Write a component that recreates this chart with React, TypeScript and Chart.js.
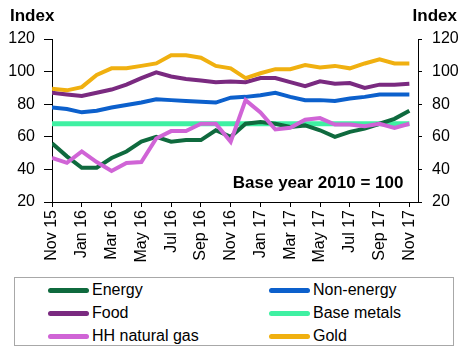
import React, { useEffect, useRef } from "react";
import { Chart, registerables } from "chart.js";

Chart.register(...registerables);

const monthLabels = [
  "Nov 15", "Dec 15", "Jan 16", "Feb 16", "Mar 16", "Apr 16", "May 16", "Jun 16", "Jul 16",
  "Aug 16", "Sep 16", "Oct 16", "Nov 16", "Dec 16", "Jan 17", "Feb 17", "Mar 17", "Apr 17",
  "May 17", "Jun 17", "Jul 17", "Aug 17", "Sep 17", "Oct 17", "Nov 17",
];

const energy = [56, 48, 41, 41, 47, 51, 57, 60, 57, 58, 58, 64, 60, 68, 69, 68, 66, 67, 64, 60, 63, 65, 68, 71, 76];
const nonEnergy = [78, 77, 75, 76, 78, 79.5, 81, 83, 82.5, 82, 81.5, 81, 84, 84.5, 85.5, 87, 84.5, 82.5, 82.5, 82, 83.5, 84.5, 86, 86, 86];
const food = [87, 86, 85, 87, 89, 92, 96, 99.5, 97, 95.5, 94.5, 93.5, 94, 93.5, 96, 96, 93.5, 91, 94, 92.5, 93, 90, 92, 92, 92.5];
const baseMetals = [68, 68, 68, 68, 68, 68, 68, 68, 68, 68, 68, 68, 68, 68, 68, 68, 68, 68, 68, 68, 68, 68, 68, 68, 68];
const hhGas = [47, 44, 51, 44.5, 39, 44, 44.5, 59, 63.5, 63.5, 68, 68, 57, 82.5, 75, 64.5, 65.5, 70.5, 71.5, 67.5, 67.5, 66.5, 68, 65.5, 68];
const gold = [89.5, 88.5, 90.5, 98, 102, 102, 103.5, 105, 110, 110, 108.5, 103.5, 102, 96, 99, 101.5, 101.5, 104, 102.5, 103.5, 102, 105, 107.5, 105, 105];

const yTicks = [20, 40, 60, 80, 100, 120];

const seriesNames = ["Energy", "Non-energy", "Food", "Base metals", "HH natural gas", "Gold"];
const seriesColors = ["#0f6a3e", "#0c60cc", "#7a2a80", "#3ff0a2", "#d064d6", "#f0b010"];
const seriesData = [energy, nonEnergy, food, baseMetals, hhGas, gold];
const seriesOrder = [2, 4, 4, 5, 1, 3];

const FONT = "'Liberation Sans', Arial, sans-serif";

const annotationPlugin = {
  id: "annot",
  afterDraw(chart: any) {
    const { ctx, chartArea } = chart;
    ctx.save();
    ctx.fillStyle = "#000";
    ctx.font = `bold 17px ${FONT}`;
    ctx.textBaseline = "middle";
    ctx.textAlign = "left";
    ctx.fillText("Index", 10, 16);
    ctx.textAlign = "right";
    ctx.fillText("Index", chart.width - 10, 16);
    ctx.textAlign = "center";
    ctx.fillText("Base year 2010 = 100", chartArea.left + (chartArea.right - chartArea.left) * 0.727, chartArea.bottom - 19);
    ctx.restore();
  },
};

export default function App() {
  const ref = useRef<HTMLCanvasElement>(null);

  useEffect(() => {
    if (!ref.current) return;
    const datasets = seriesNames.map((name, k) => ({
      label: name,
      data: seriesData[k].map((v, i) => ({ x: i, y: v })),
      borderColor: seriesColors[k],
      backgroundColor: seriesColors[k],
      borderWidth: k === 3 ? 5 : 4,
      pointRadius: 0,
      tension: 0,
      order: seriesOrder[k],
      yAxisID: "y",
    }));
    const tickCommon = { color: "#000", font: { family: FONT, size: 16 } };
    const chart = new Chart(ref.current, {
      type: "line",
      data: { datasets },
      plugins: [annotationPlugin],
      options: {
        animation: false,
        responsive: false,
        devicePixelRatio: 1,
        layout: { padding: { top: 39, left: 0, right: 0, bottom: 0 } },
        plugins: { legend: { display: false }, tooltip: { enabled: false } },
        scales: {
          x: {
            type: "linear",
            min: 0,
            max: 24.58,
            afterBuildTicks: (scale: any) => {
              scale.ticks = monthLabels
                .map((_, i) => i)
                .filter((i) => i % 2 === 0)
                .map((i) => ({ value: i }));
            },
            afterFit: (scale: any) => {
              scale.height = 272 - 202;
            },
            ticks: {
              ...tickCommon,
              minRotation: 90,
              maxRotation: 90,
              autoSkip: false,
              padding: 3,
              callback: (v: any) => monthLabels[v] ?? "",
            },
            grid: { drawOnChartArea: false, drawTicks: true, tickLength: 5, color: "#000" },
            border: { display: true, color: "#000", width: 1 },
          },
          y: {
            position: "left",
            min: 20,
            max: 120,
            afterBuildTicks: (scale: any) => {
              scale.ticks = yTicks.map((v) => ({ value: v }));
            },
            afterFit: (scale: any) => {
              scale.width = 52;
            },
            ticks: { ...tickCommon, padding: 9 },
            grid: { drawOnChartArea: false, drawTicks: true, tickLength: 8, color: "#000" },
            border: { display: true, color: "#000", width: 1 },
          },
          y2: {
            position: "right",
            min: 20,
            max: 120,
            afterBuildTicks: (scale: any) => {
              scale.ticks = yTicks.map((v) => ({ value: v }));
            },
            afterFit: (scale: any) => {
              scale.width = 49;
            },
            ticks: { ...tickCommon, padding: 10 },
            grid: { drawOnChartArea: false, drawTicks: true, tickLength: 4, color: "#000" },
            border: { display: true, color: "#000", width: 1 },
          },
        },
      },
    } as any);
    return () => chart.destroy();
  }, []);

  const legendCols = [0, 1];
  const legendRows = [0, 1, 2];

  return (
    <div style={{ position: "fixed", left: 0, top: 0, width: 467, height: 353, background: "#fff", overflow: "hidden" }}>
      <canvas ref={ref} width={467} height={272} style={{ position: "absolute", left: 0, top: 0, width: 467, height: 272 }} />
      <div
        style={{
          position: "absolute",
          left: 14,
          top: 277,
          width: 440,
          height: 69,
          border: "1px solid #a8a8a8",
          boxSizing: "border-box",
        }}
      >
        {legendRows.map((r) =>
          legendCols.map((c) => {
            const k = r * 2 + c;
            return (
              <div
                key={k}
                style={{
                  position: "absolute",
                  left: c === 0 ? 33 : 254,
                  top: 1 + r * 23,
                  height: 22,
                  display: "flex",
                  alignItems: "center",
                  fontFamily: FONT,
                  fontSize: 16,
                  color: "#000",
                  whiteSpace: "nowrap",
                }}
              >
                <span
                  style={{
                    display: "inline-block",
                    width: 41,
                    height: 5,
                    borderRadius: 3,
                    background: seriesColors[k],
                    marginRight: 3,
                  }}
                />
                <span>{seriesNames[k]}</span>
              </div>
            );
          })
        )}
      </div>
    </div>
  );
}
